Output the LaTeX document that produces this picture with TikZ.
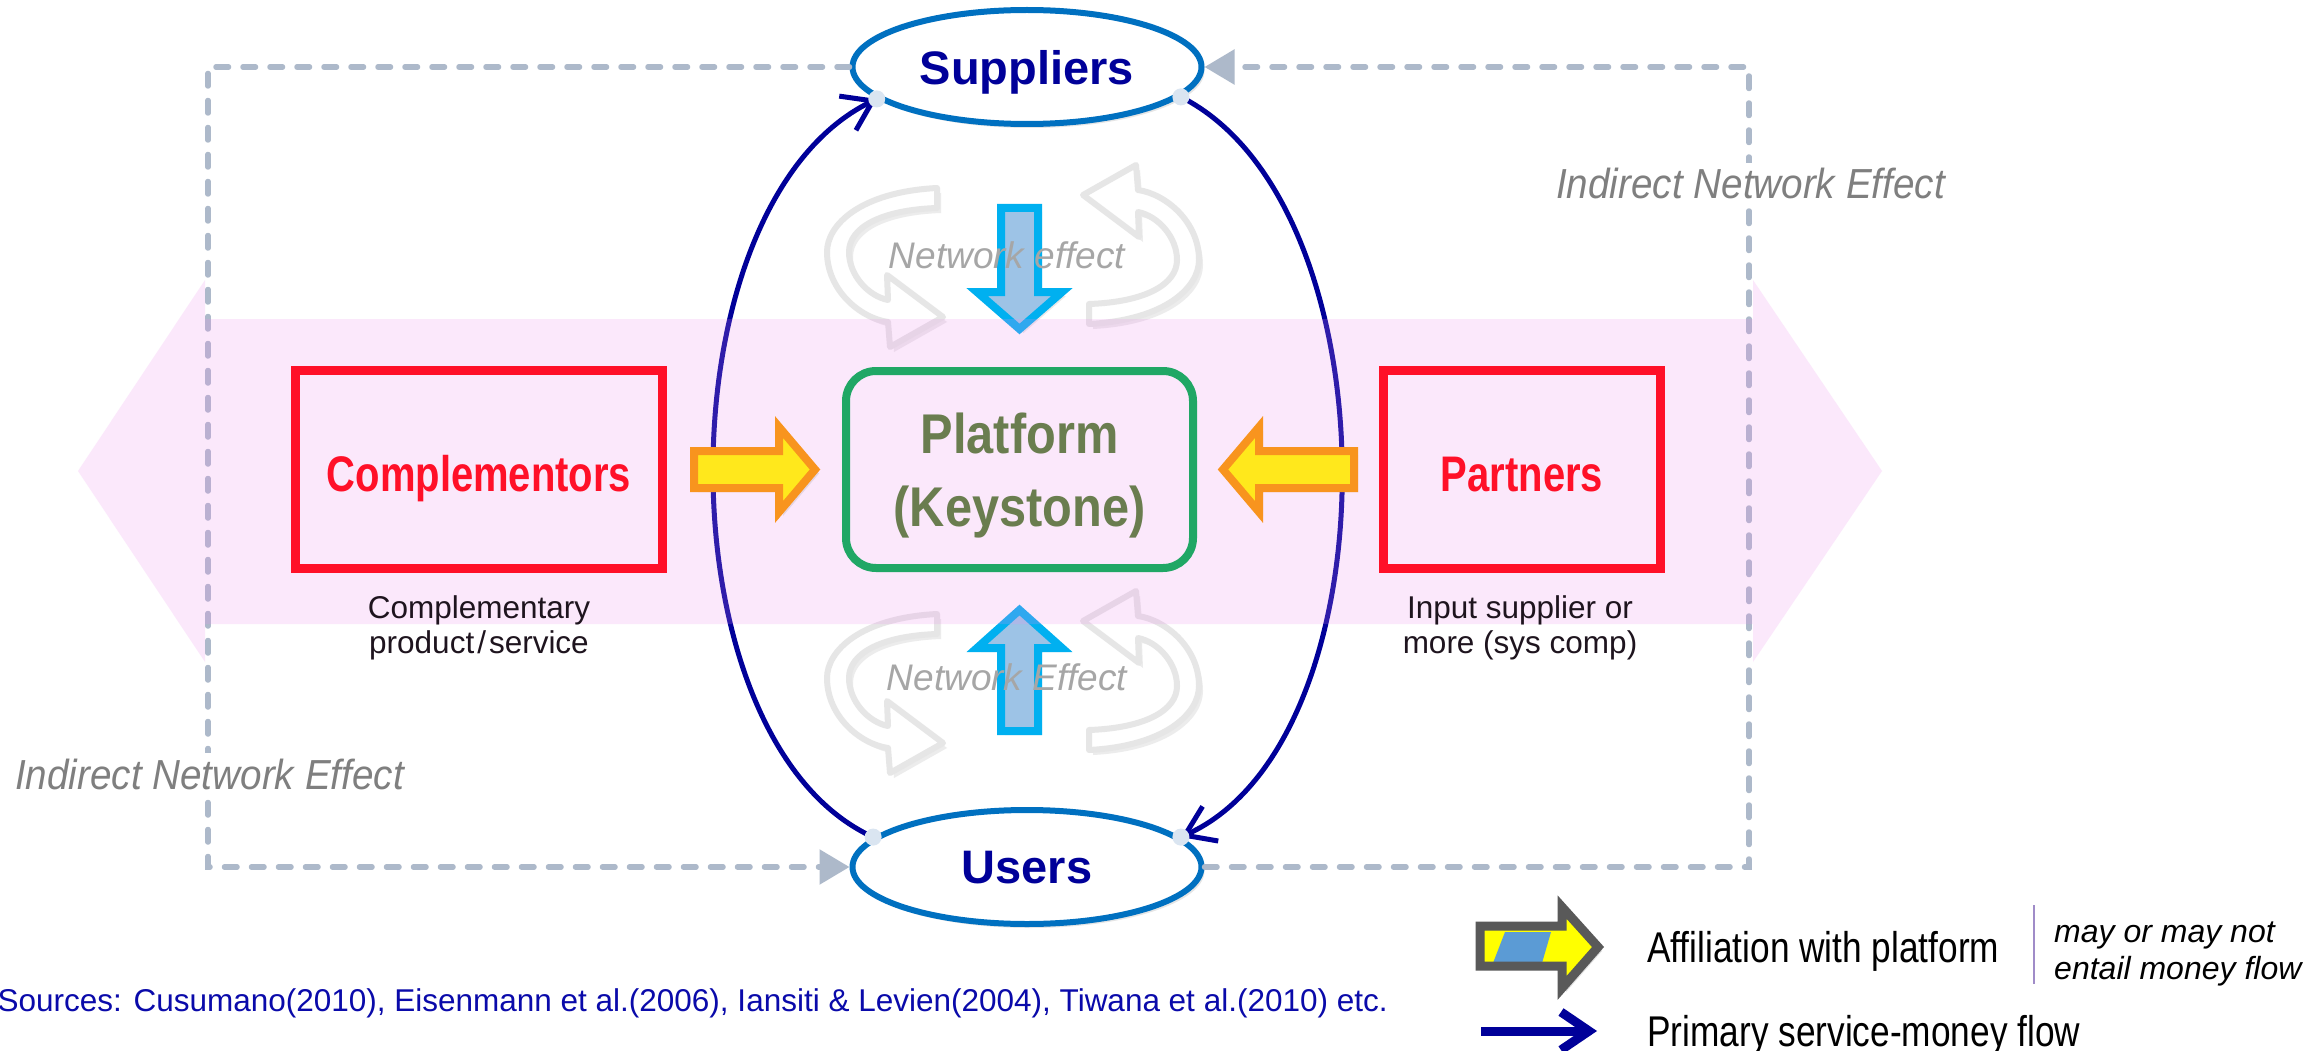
\documentclass[tikz,border=0pt]{standalone}
\usepackage{fontspec}
\setmainfont{Liberation Sans}
\newfontfamily\platfont{Liberation Sans}[FakeStretch=0.87]
\newfontfamily\boxfont{Liberation Sans}[FakeStretch=0.80]
\newfontfamily\inefont{Liberation Sans}[FakeStretch=0.92]
\newfontfamily\legfont{Liberation Sans}[FakeStretch=0.82]
\usetikzlibrary{shapes.geometric,arrows.meta,shadows}

\definecolor{navy}{RGB}{0,0,153}
\definecolor{ringblue}{RGB}{0,112,192}
\definecolor{dotblue}{RGB}{218,229,241}
\definecolor{dashgray}{RGB}{173,185,202}
\definecolor{inegray}{RGB}{127,127,127}
\definecolor{negray}{RGB}{166,166,166}
\definecolor{swirlgray}{RGB}{230,230,230}
\definecolor{boxred}{RGB}{255,16,40}
\definecolor{platgreen}{RGB}{32,167,101}
\definecolor{olive}{RGB}{106,125,79}
\definecolor{arrowyellow}{RGB}{255,232,28}
\definecolor{arroworange}{RGB}{248,148,30}
\definecolor{cyanline}{RGB}{0,176,240}
\definecolor{paleblue}{RGB}{157,195,230}
\definecolor{bandpink}{RGB}{238,140,238}
\definecolor{leggray}{RGB}{89,89,89}
\definecolor{legyellow}{RGB}{255,255,0}
\definecolor{legblue}{RGB}{91,155,213}
\definecolor{divider}{RGB}{160,140,200}
\definecolor{srcblue}{RGB}{10,10,170}
\definecolor{captext}{RGB}{30,20,30}

\tikzset{
  party/.style={ellipse, draw=ringblue, line width=6pt, fill=white,
    minimum width=349pt, minimum height=114pt, inner sep=0pt, text depth=0pt,
    text=navy, font=\bfseries\fontsize{47}{56}\selectfont,
    drop shadow={shadow xshift=3pt, shadow yshift=-4pt, opacity=0.2}},
  member/.style={rectangle, draw=boxred, line width=9pt, inner sep=0pt,
    minimum height=198pt, text height=43pt, text depth=0pt, text=boxred,
    font=\boxfont\bfseries\fontsize{50}{58}\selectfont},
  keystone/.style={rectangle, rounded corners=30pt, draw=platgreen, line width=8pt,
    minimum width=347pt, minimum height=197pt, align=center, text depth=0pt,
    text=olive, font=\platfont\bfseries\fontsize{56}{73}\selectfont},
  caption/.style={align=center, inner sep=0pt, text=captext,
    font=\fontsize{31.5}{35}\selectfont},
  dot/.style={circle, fill=dotblue, minimum size=17pt, inner sep=0pt},
  flow/.style={draw=navy, line width=5pt, -{Straight Barb[length=28pt,width=38pt]}},
  indirect/.style={draw=dashgray, line width=5.5pt, line cap=round,
    dash pattern=on 12.5pt off 14.5pt, -{Triangle[length=30pt,width=34pt]}},
  inetext/.style={fill=white, inner sep=6pt, text=inegray,
    font=\inefont\itshape\fontsize{42}{50}\selectfont},
  netext/.style={inner sep=0pt, text=negray, font=\itshape\fontsize{37}{44}\selectfont},
  affil/.style={draw=arroworange, fill=arrowyellow, line width=8pt, line join=miter,
    drop shadow={shadow xshift=4pt, shadow yshift=-4pt, opacity=0.18}},
  pull/.style={draw=cyanline, fill=paleblue, line width=8pt, line join=miter,
    drop shadow={shadow xshift=4pt, shadow yshift=-4pt, opacity=0.18}},
  swirlline/.style={draw=swirlgray, fill=white, line width=6pt, line join=round,
    drop shadow={shadow xshift=4pt, shadow yshift=-5pt, opacity=0.15}},
  legtext/.style={inner sep=0pt, font=\legfont\fontsize{43}{50}\selectfont},
  legnote/.style={inner sep=0pt, font=\itshape\fontsize{32}{37}\selectfont},
  swirl/.pic={
    \path[swirlline] (-76,-68) .. controls (-153,-64) and (-186,-31) .. (-186,-4)
      .. controls (-186,34) and (-153,62) .. (-125,66)
      -- (-123,91) -- (-70,61) -- (-126,19) -- (-125,44)
      .. controls (-145,40) and (-164,19) .. (-164,-4)
      .. controls (-164,-28) and (-133,-46) .. (-76,-48) -- cycle;
  }
}

\begin{document}
\begin{tikzpicture}[x=1pt,y=-1pt]
\fill[white] (0,0) rectangle (2320,1051);
\useasboundingbox (0,0) rectangle (2320,1051);

% the two sides of the platform market
\node[party] (sup) at (1027,67) {Suppliers};
\node[party] (users) at (1027,867) {Users};

% indirect network effect loops
\coordinate (tl) at (208,67);
\coordinate (bl) at (208,867);
\coordinate (tr) at (1749,67);
\coordinate (br) at (1749,867);
\draw[indirect] (sup.west) -- (tl) -- (bl) -- (users.west);
\draw[indirect] (users.east) -- (br) -- (tr) -- (sup.east);

% service / money flows
\draw[flow] (users.169) .. controls (660,740) and (660,205) .. (sup.192);
\draw[flow] (sup.-11) .. controls (1395,205) and (1395,740) .. (users.11);
\node[dot] (d1) at (sup.192) {};
\node[dot] (d2) at (sup.-11) {};
\node[dot] (d3) at (users.169) {};
\node[dot] (d4) at (users.11) {};

% same-side network effects
\pic at (1013,256) {swirl};
\pic[rotate=180] at (1013,256) {swirl};
\pic at (1013,682) {swirl};
\pic[rotate=180] at (1013,682) {swirl};
\path[pull] (1001,208) -- (1038,208) -- (1038,292) -- (1062,292) -- (1019.5,329)
  -- (977,292) -- (1001,292) -- cycle;
\path[pull] (1001,731) -- (1038,731) -- (1038,648) -- (1062,648) -- (1019.5,610)
  -- (977,648) -- (1001,648) -- cycle;

% ecosystem band
\fill[bandpink, fill opacity=0.2] (78,471) -- (205,280) -- (205,319) -- (1753,319)
  -- (1753,280) -- (1882,471) -- (1753,662) -- (1753,624) -- (205,624)
  -- (205,662) -- cycle;

% platform and its affiliates
\node[keystone] (plat) at (1019.5,469.5) {Platform\\(Keystone)};
\node[member, minimum width=367pt] (comp) at (479,469.5) {Complementors};
\node[member, minimum width=277pt] (part) at (1522,469.5) {Partners};
\path[affil] (694,451) -- (779,451) -- (779,427) -- (815,469.5) -- (779,512)
  -- (779,488) -- (694,488) -- cycle;
\path[affil] (1354,451) -- (1259,451) -- (1259,427) -- (1223,469.5) -- (1259,512)
  -- (1259,488) -- (1354,488) -- cycle;
\node[caption] (ccap) at (479,627.5) {Complementary\\product{\kern3pt}/{\kern3pt}service};
\node[caption] (pcap) at (1520,627.5) {Input supplier or\\more (sys comp)};

% labels
\node[netext, anchor=base] (ne1) at (1007,268) {Network effect};
\node[netext, anchor=base] (ne2) at (1007,690) {Network Effect};
\node[inetext, anchor=base west] (ine1) at (1550,199) {Indirect Network Effect};
\node[inetext, anchor=base west] (ine2) at (9,789) {Indirect Network Effect};

% legend
\fill[legyellow, drop shadow={shadow xshift=4pt, shadow yshift=-4pt, opacity=0.25}]
  (1480,926) -- (1562,926) -- (1562,907) -- (1598,947) -- (1562,988) -- (1562,966)
  -- (1480,966) -- cycle;
\fill[legblue] (1505,932) -- (1551,932) -- (1542,963) -- (1493,963) -- cycle;
\draw[leggray, line width=9pt, line join=miter] (1480,926) -- (1562,926) -- (1562,907)
  -- (1598,947) -- (1562,988) -- (1562,966) -- (1480,966) -- cycle;
\node[legtext, anchor=base west] (leg1) at (1647,962) {Affiliation with platform};
\coordinate (dv1) at (2034,905);
\coordinate (dv2) at (2034,984);
\draw[divider, line width=2pt] (dv1) -- (dv2);
\node[legnote, anchor=base west] (leg2) at (2054,942) {may or may not};
\node[legnote, anchor=base west] (leg3) at (2054,979) {entail money flow};
\coordinate (legA) at (1481,1031);
\coordinate (legB) at (1597,1031);
\draw[flow, line width=9pt] (legA) -- (legB);
\node[legtext, anchor=base west] (leg4) at (1647,1046) {Primary service-money flow};

% references
\node[anchor=base east, inner sep=0pt, text=srcblue, font=\fontsize{31.5}{36}\selectfont]
  (src) at (1388,1011) {Sources: Cusumano(2010), Eisenmann et al.(2006), Iansiti \& Levien(2004), Tiwana et al.(2010) etc.};
\end{tikzpicture}
\end{document}
